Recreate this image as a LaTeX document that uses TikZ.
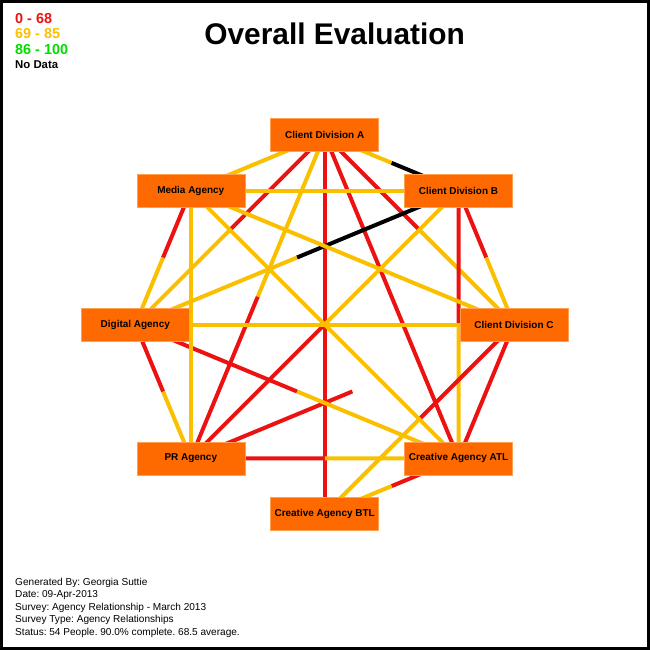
\documentclass[tikz,border=0pt]{standalone}
\usepackage{fontspec}
\setmainfont{Liberation Sans}
\usetikzlibrary{calc,backgrounds}

\definecolor{lowred}{RGB}{237,18,18}
\definecolor{midgold}{RGB}{250,192,0}
\definecolor{highgreen}{RGB}{0,221,0}
\definecolor{boxorange}{RGB}{255,106,0}
\definecolor{boxedge}{RGB}{255,160,80}

\frenchspacing

\begin{document}
\begin{tikzpicture}[font=\rmfamily,
  agency/.style={rectangle,fill=boxorange,draw=boxedge,line width=0.4pt,
    minimum width=3.24cm,minimum height=0.99cm,inner sep=0pt,
    font=\fontsize{8.5}{10}\selectfont\bfseries},
  edge/.style={line width=0.12cm},
  lgd/.style={anchor=base west,inner sep=0pt,
    font=\fontsize{12.3}{14}\selectfont\bfseries},
]

\def\R{5.68}

\useasboundingbox (-9.74,-9.765) rectangle (9.76,9.735);
\draw[line width=0.1cm] (-9.69,-9.715) rectangle (9.71,9.685);

% ------------------------------------------------------------------
% Title and legend
% ------------------------------------------------------------------
\node[anchor=base,inner sep=0pt,font=\fontsize{25.5}{30}\selectfont\bfseries]
  (title) at (0.3,8.415) {Overall Evaluation};

\node[lgd,lowred] (low) at (-9.29,9.045) {0 - 68};
\node[lgd,midgold] (mid) at (-9.29,8.595) {69 - 85};
\node[lgd,highgreen] (high) at (-9.29,8.115) {86 - 100};
\node[lgd,font=\fontsize{9.7}{12}\selectfont\bfseries] (nodata)
  at (-9.29,7.695) {No Data};

% ------------------------------------------------------------------
% Agencies on the ring
% ------------------------------------------------------------------
\node[agency] (ca)  at (90:\R)  {Client Division A};
\node[agency] (cb)  at (45:\R)  {Client Division B};
\node[agency] (cc)  at (0:\R)   {Client Division C};
\node[agency] (atl) at (-45:\R) {Creative Agency ATL};
\node[agency] (btl) at (-90:\R) {Creative Agency BTL};
\node[agency] (pr)  at (-135:\R) {PR Agency};
\node[agency] (dig) at (180:\R) {Digital Agency};
\node[agency] (med) at (135:\R) {Media Agency};

% ------------------------------------------------------------------
% Ratings: each half coloured from its own end
% ------------------------------------------------------------------
\begin{scope}[on background layer]
  \draw[edge,midgold] (ca.center) -- ($(ca.center)!.5!(cb.center)$);
  \draw[edge,black] (cb.center) -- ($(ca.center)!.5!(cb.center)$);
  \draw[edge,lowred] (ca.center) -- ($(ca.center)!.5!(cc.center)$);
  \draw[edge,midgold] (cc.center) -- ($(ca.center)!.5!(cc.center)$);
  \draw[edge,lowred] (ca.center) -- (atl.center);
  \draw[edge,lowred] (ca.center) -- (btl.center);
  \draw[edge,midgold] (ca.center) -- ($(ca.center)!.5!(pr.center)$);
  \draw[edge,lowred] (pr.center) -- ($(ca.center)!.5!(pr.center)$);
  \draw[edge,lowred] (ca.center) -- ($(ca.center)!.5!(dig.center)$);
  \draw[edge,midgold] (dig.center) -- ($(ca.center)!.5!(dig.center)$);
  \draw[edge,midgold] (ca.center) -- (med.center);

  \draw[edge,lowred] (cb.center) -- ($(cb.center)!.5!(cc.center)$);
  \draw[edge,midgold] (cc.center) -- ($(cb.center)!.5!(cc.center)$);
  \draw[edge,lowred] (cb.center) -- ($(cb.center)!.5!(atl.center)$);
  \draw[edge,midgold] (atl.center) -- ($(cb.center)!.5!(atl.center)$);
  \draw[edge,midgold] (cb.center) -- ($(cb.center)!.5!(pr.center)$);
  \draw[edge,lowred] (pr.center) -- ($(cb.center)!.5!(pr.center)$);
  \draw[edge,black] (cb.center) -- ($(cb.center)!.5!(dig.center)$);
  \draw[edge,midgold] (dig.center) -- ($(cb.center)!.5!(dig.center)$);
  \draw[edge,midgold] (cb.center) -- (med.center);

  \draw[edge,lowred] (cc.center) -- (atl.center);
  \draw[edge,lowred] (cc.center) -- ($(cc.center)!.5!(btl.center)$);
  \draw[edge,midgold] (btl.center) -- ($(cc.center)!.5!(btl.center)$);
  \draw[edge,lowred] (pr.center) -- ($(cc.center)!.5!(pr.center)$);
  \draw[edge,midgold] (cc.center) -- (dig.center);
  \draw[edge,midgold] (cc.center) -- (med.center);

  \draw[edge,lowred] (atl.center) -- ($(atl.center)!.5!(btl.center)$);
  \draw[edge,midgold] (btl.center) -- ($(atl.center)!.5!(btl.center)$);
  \draw[edge,midgold] (atl.center) -- ($(atl.center)!.5!(pr.center)$);
  \draw[edge,lowred] (pr.center) -- ($(atl.center)!.5!(pr.center)$);
  \draw[edge,midgold] (atl.center) -- ($(atl.center)!.5!(dig.center)$);
  \draw[edge,lowred] (dig.center) -- ($(atl.center)!.5!(dig.center)$);
  \draw[edge,midgold] (atl.center) -- (med.center);

  \draw[edge,midgold] (pr.center) -- ($(pr.center)!.5!(dig.center)$);
  \draw[edge,lowred] (dig.center) -- ($(pr.center)!.5!(dig.center)$);
  \draw[edge,midgold] (pr.center) -- (med.center);
  \draw[edge,midgold] (dig.center) -- ($(dig.center)!.5!(med.center)$);
  \draw[edge,lowred] (med.center) -- ($(dig.center)!.5!(med.center)$);
\end{scope}

% ------------------------------------------------------------------
% Footer
% ------------------------------------------------------------------
\node[anchor=base west,inner sep=0pt,align=left,
  font=\fontsize{8.6}{10.67}\selectfont] (info) at (-9.29,-9.315)
  {Generated By: Georgia Suttie\\
   Date: 09-Apr-2013\\
   Survey: Agency Relationship - March 2013\\
   Survey Type: Agency Relationships\\
   Status: 54 People. 90.0\% complete. 68.5 average.};

\end{tikzpicture}
\end{document}
